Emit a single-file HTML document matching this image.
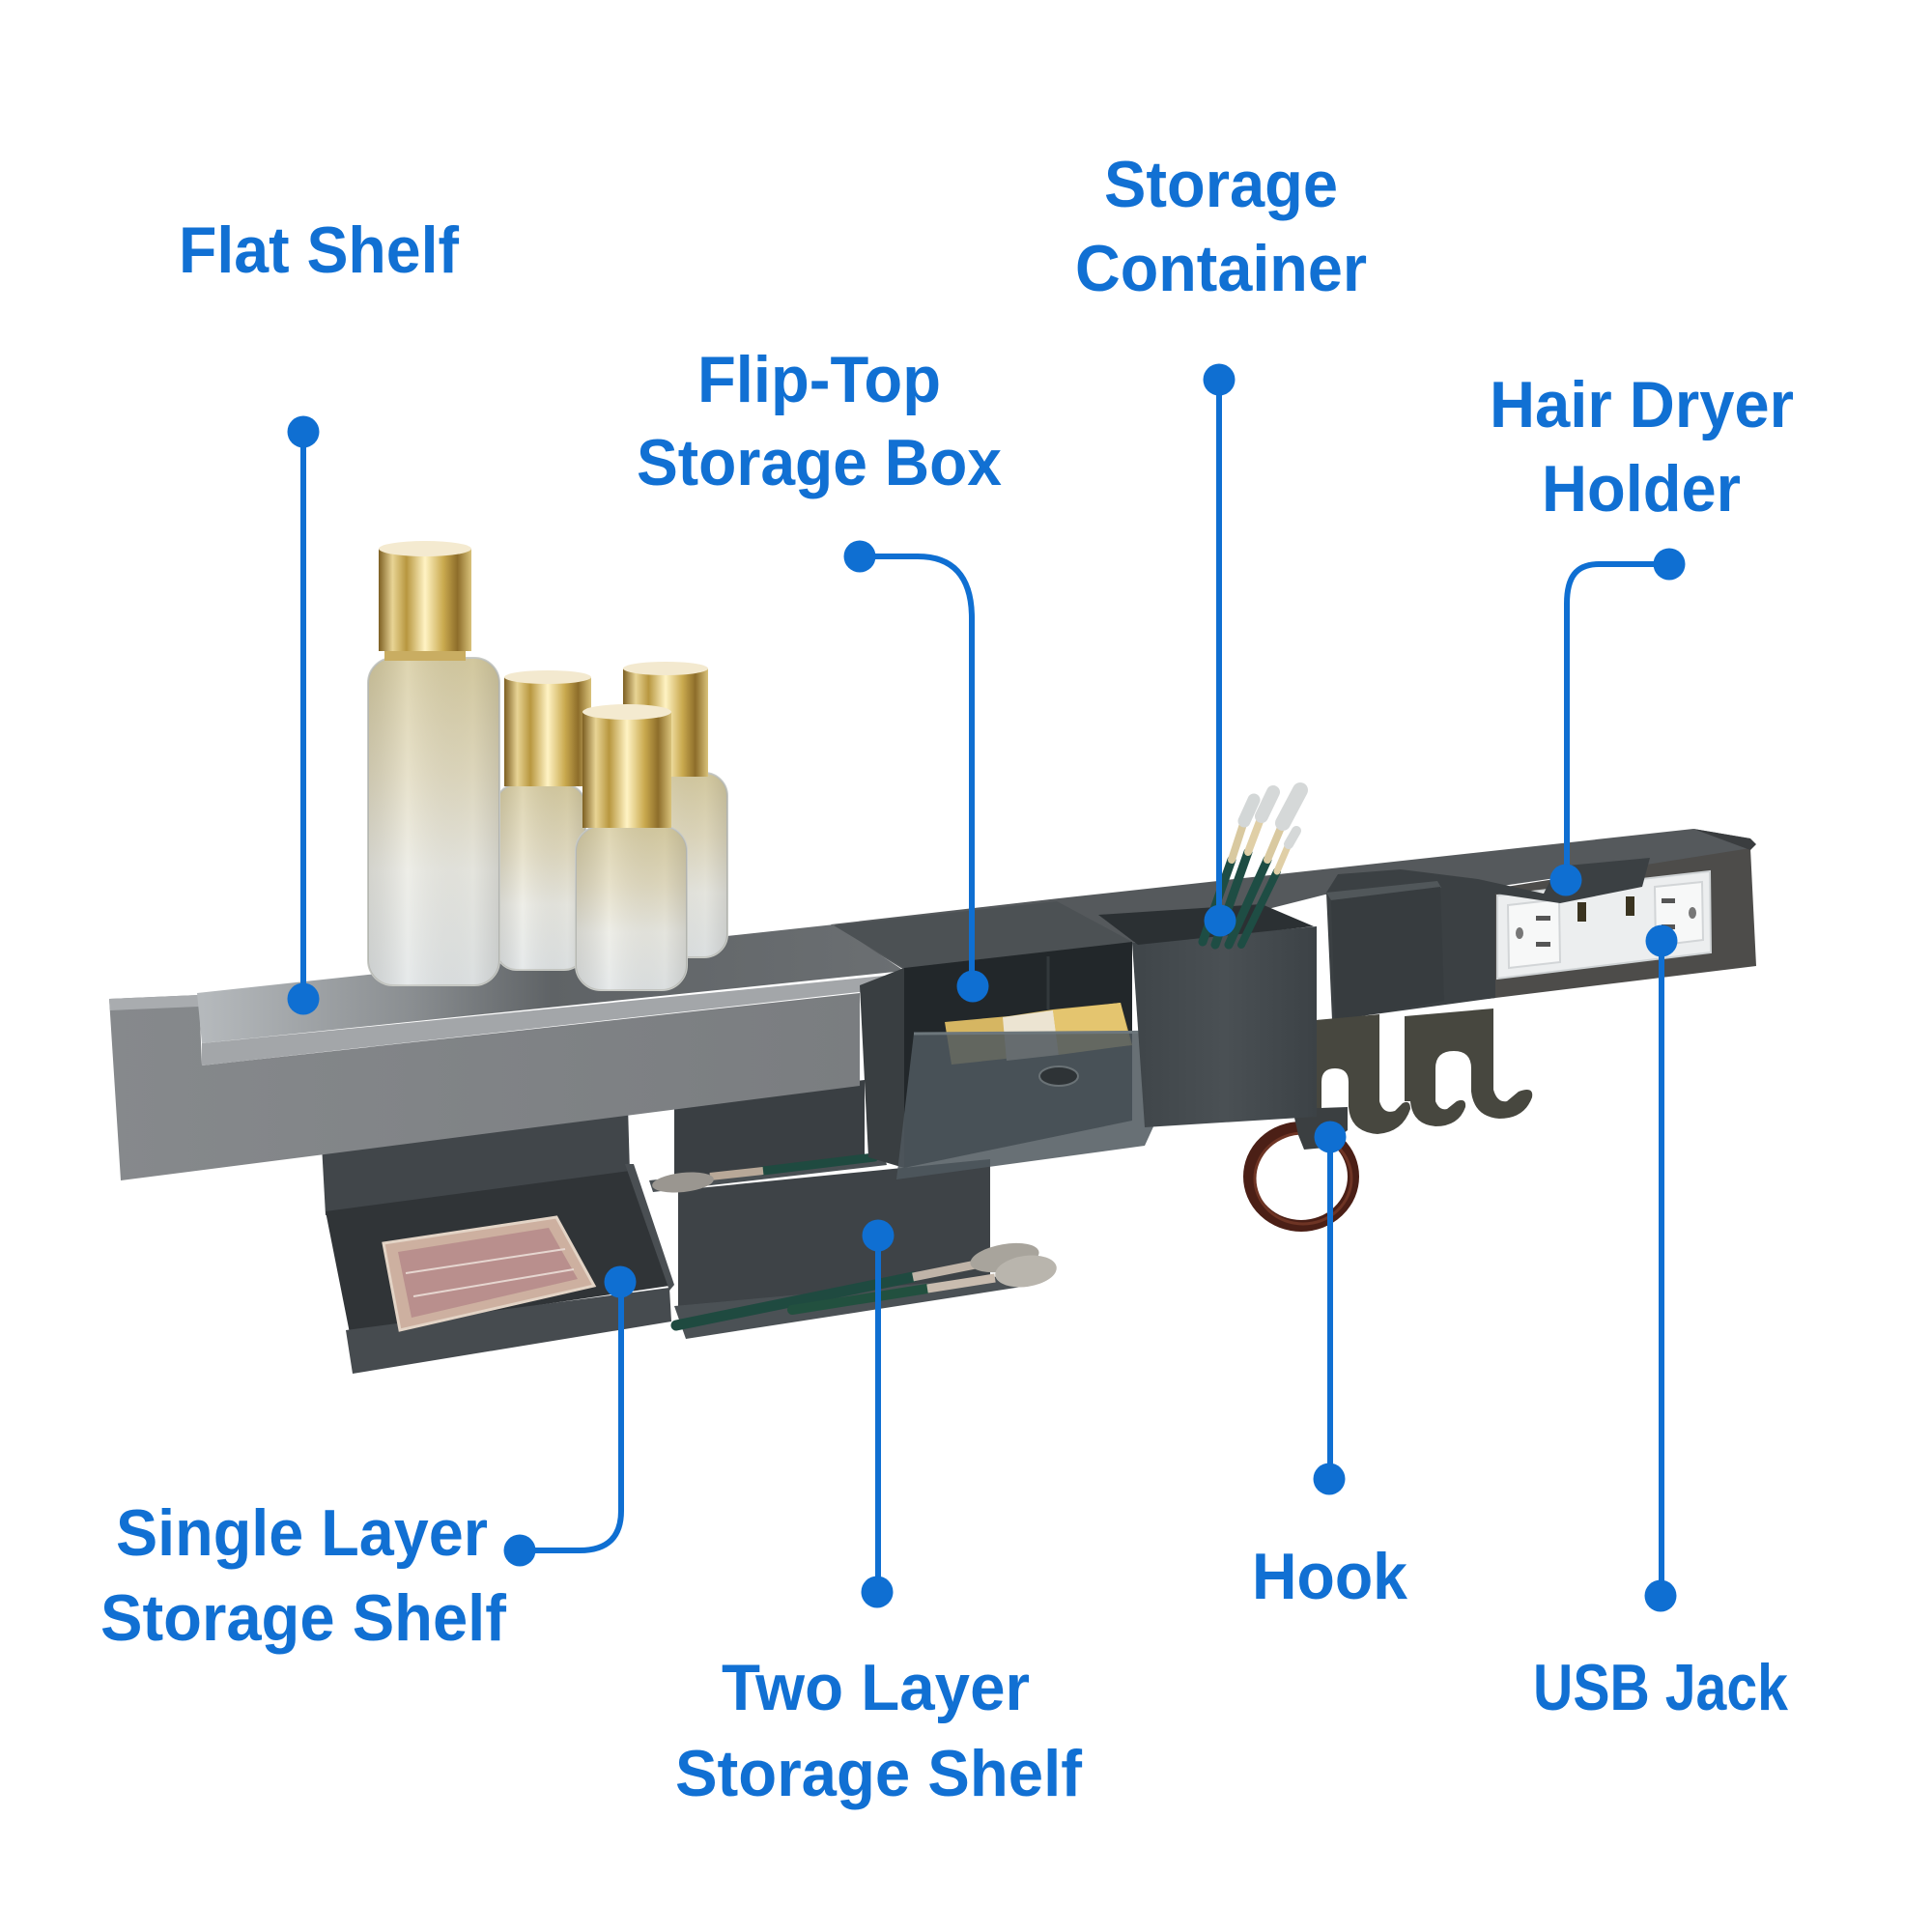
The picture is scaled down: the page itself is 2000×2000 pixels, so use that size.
<!DOCTYPE html>
<html><head><meta charset="utf-8"><style>
html,body{margin:0;padding:0;background:#fff;}
svg{display:block;}
text{font-family:"Liberation Sans",Arial,sans-serif;font-weight:bold;fill:#1170d3;}
</style></head><body>
<svg width="2000" height="2000" viewBox="0 0 2000 2000" xmlns="http://www.w3.org/2000/svg">
<defs>
<linearGradient id="shelfTop" gradientUnits="userSpaceOnUse" x1="210" y1="0" x2="930" y2="0">
<stop offset="0" stop-color="#b5b9bc"/><stop offset="0.3" stop-color="#8a8e91"/><stop offset="0.5" stop-color="#5f6366"/><stop offset="1" stop-color="#6b6f72"/></linearGradient>
<linearGradient id="front" gradientUnits="userSpaceOnUse" x1="113" y1="0" x2="890" y2="0">
<stop offset="0" stop-color="#86898c"/><stop offset="1" stop-color="#7a7d80"/></linearGradient>
<linearGradient id="body" x1="0" y1="0" x2="0" y2="1">
<stop offset="0" stop-color="#d8cda2"/><stop offset="0.35" stop-color="#e3dcc1"/><stop offset="0.65" stop-color="#ebebe4"/><stop offset="1" stop-color="#e2e6e7"/></linearGradient>
<linearGradient id="bodyH" x1="0" y1="0" x2="1" y2="0">
<stop offset="0" stop-color="#000" stop-opacity="0.10"/><stop offset="0.3" stop-color="#fff" stop-opacity="0.15"/><stop offset="0.8" stop-color="#000" stop-opacity="0.03"/><stop offset="1" stop-color="#000" stop-opacity="0.12"/></linearGradient>
<linearGradient id="cap" x1="0" y1="0" x2="1" y2="0">
<stop offset="0" stop-color="#7d5f22"/><stop offset="0.15" stop-color="#e8d495"/><stop offset="0.3" stop-color="#b8973f"/><stop offset="0.5" stop-color="#fff3c4"/><stop offset="0.7" stop-color="#c9a94e"/><stop offset="0.85" stop-color="#8d6d2a"/><stop offset="1" stop-color="#d9c27a"/></linearGradient>
<linearGradient id="cont" x1="0" y1="0" x2="1" y2="0">
<stop offset="0" stop-color="#3f4549"/><stop offset="0.5" stop-color="#4a5054"/><stop offset="1" stop-color="#3c4246"/></linearGradient>
</defs>

<!-- shelves under rail -->
<polygon points="333,1185 650,1145 652,1215 337,1258" fill="#41464a"/>
<polygon points="337,1254 652,1212 693,1331 362,1380" fill="#303437"/>
<polygon points="647,1205 656,1205 698,1330 693,1336" fill="#4a4f53"/>
<polygon points="358,1377 693,1333 695,1368 365,1422" fill="#464b4f"/>
<polygon points="397,1287 576,1260 615,1331 414,1377" fill="#cdb0a0" stroke="#e3d4c6" stroke-width="3"/>
<polygon points="412,1296 568,1271 598,1324 426,1364" fill="#b98f8d"/>
<line x1="420" y1="1318" x2="585" y2="1293" stroke="#e6d6d0" stroke-width="2"/>
<line x1="428" y1="1342" x2="594" y2="1314" stroke="#e6d6d0" stroke-width="2"/>

<!-- two layer shelf -->
<polygon points="698,1140 895,1118 895,1200 698,1222" fill="#3a3f43"/>
<polygon points="702,1232 1025,1200 1025,1323 702,1352" fill="#3e4347"/>
<polygon points="672,1222 915,1195 918,1206 676,1234" fill="#4a5054"/>
<line x1="790" y1="1212" x2="905" y2="1198" stroke="#1f4a40" stroke-width="9" stroke-linecap="round"/>
<line x1="735" y1="1218" x2="790" y2="1212" stroke="#b8a898" stroke-width="8"/>
<ellipse cx="707" cy="1224" rx="32" ry="10" fill="#9a9690" transform="rotate(-6 707 1224)"/>
<polygon points="698,1352 1071,1318 1071,1330 710,1386" fill="#4b5155"/>
<line x1="700" y1="1372" x2="945" y2="1322" stroke="#1f4a40" stroke-width="11" stroke-linecap="round"/>
<line x1="945" y1="1322" x2="1010" y2="1309" stroke="#c0b4a8" stroke-width="9"/>
<ellipse cx="1040" cy="1302" rx="36" ry="14" fill="#a8a49c" transform="rotate(-10 1040 1302)"/>
<line x1="820" y1="1356" x2="960" y2="1334" stroke="#22503f" stroke-width="10" stroke-linecap="round"/>
<line x1="960" y1="1334" x2="1030" y2="1323" stroke="#c9bcaf" stroke-width="9"/>
<ellipse cx="1062" cy="1316" rx="32" ry="16" fill="#b9b5ad" transform="rotate(-8 1062 1316)"/>

<!-- rail top surface (back) -->
<polygon points="860,957 1096,930 1753,858 1812,868 1812,880 1548,918 1372,926 1170,977 936,1004" fill="#55595c"/>
<!-- rail front face (left) -->
<polygon points="113,1034 206,1030 209,1103 890,1028 890,1124 125,1222" fill="url(#front)"/>
<polygon points="113,1034 206,1030 206,1042 114,1046" fill="#a9acaf"/>
<!-- flat shelf -->
<polygon points="204,1028 864,957 936,1005 209,1080" fill="url(#shelfTop)"/>
<polygon points="209,1080 936,1008 934,1022 209,1103" fill="#a3a6a9"/>

<!-- right rail front face -->
<polygon points="1540,921 1812,878 1818,1000 1540,1034" fill="#4d4c4a"/>
<polygon points="1753,858 1812,868 1818,874 1812,880" fill="#3a3d3f"/>
<!-- socket -->
<polygon points="1550,927 1770,902 1771,986 1550,1013" fill="#eceeef" stroke="#cfd3d5" stroke-width="2"/>
<polygon points="1561,937 1614,931 1615,996 1562,1002" fill="#f7f8f8" stroke="#d2d5d7" stroke-width="2"/>
<rect x="1590" y="948" width="15" height="5" fill="#555"/>
<rect x="1590" y="975" width="15" height="5" fill="#555"/>
<ellipse cx="1573" cy="966" rx="4" ry="6" fill="#777"/>
<polygon points="1713,918 1762,913 1763,973 1714,979" fill="#f7f8f8" stroke="#d2d5d7" stroke-width="2"/>
<rect x="1720" y="930" width="14" height="5" fill="#555"/>
<rect x="1720" y="957" width="14" height="5" fill="#555"/>
<ellipse cx="1752" cy="945" rx="4" ry="6" fill="#777"/>
<rect x="1633" y="934" width="9" height="20" fill="#3a3320"/>
<rect x="1683" y="928" width="9" height="20" fill="#3a3320"/>

<!-- hair dryer holder -->
<polygon points="1491,915 1548,918 1548,1033 1495,1036" fill="#5a5650"/>
<polygon points="1373,924 1385,905 1450,900 1530,910 1598,925 1612,897 1708,888 1700,918 1615,935 1548,925 1548,1033 1379,1056" fill="#3b4043"/>
<polygon points="1373,924 1488,912 1492,919 1378,932" fill="#51575a"/>
<polygon points="1378,932 1491,918 1495,1036 1382,1057" fill="#373c3f"/>
<!-- hooks -->
<path d="M1362,1056 L1428,1050 L1428,1140 Q1432,1154 1444,1150 L1452,1142 Q1460,1138 1460,1148 Q1452,1172 1426,1174 Q1398,1172 1396,1146 L1396,1120 Q1396,1106 1382,1106 Q1368,1106 1368,1120 L1368,1155 L1362,1155 Z" fill="#47473f"/>
<path d="M1454,1052 L1546,1044 L1546,1128 Q1550,1142 1560,1140 L1572,1130 Q1588,1124 1586,1136 Q1578,1158 1552,1158 Q1526,1156 1523,1130 L1523,1106 Q1523,1088 1505,1088 Q1486,1088 1486,1106 L1486,1140 Q1490,1150 1498,1148 L1508,1140 Q1518,1136 1517,1146 Q1510,1166 1486,1166 Q1462,1164 1460,1140 L1454,1140 Z" fill="#47473f"/>
<!-- ring hook -->
<ellipse cx="1347" cy="1218" rx="54" ry="51" fill="none" stroke="#4b1f16" stroke-width="12"/>
<ellipse cx="1349" cy="1220" rx="50" ry="47" fill="none" stroke="#6e3424" stroke-width="3"/>
<polygon points="1338,1148 1395,1146 1395,1170 1372,1188 1350,1190 1344,1175" fill="#3b3f41"/>

<!-- flip-top box -->
<polygon points="863,958 1094,933 1172,975 936,1002" fill="#4c5154"/>
<polygon points="890,1020 936,1002 936,1209 899,1198" fill="#393e41"/>
<polygon points="936,1002 1172,975 1172,1160 936,1209" fill="#22272a"/>
<line x1="1085" y1="990" x2="1085" y2="1045" stroke="#33393c" stroke-width="3"/>
<polygon points="978,1058 1044,1052 1090,1045 1160,1038 1172,1082 985,1102" fill="#d6b662"/>
<polygon points="1038,1053 1090,1046 1096,1092 1042,1098" fill="#ece4d2"/>
<polygon points="1090,1046 1160,1038 1170,1082 1096,1092" fill="#e4c56f"/>
<polygon points="946,1070 1239,1068 1185,1186 928,1221" fill="#4f595e" opacity="0.86"/>
<line x1="946" y1="1070" x2="1239" y2="1068" stroke="#6d777c" stroke-width="3"/>
<ellipse cx="1096" cy="1114" rx="20" ry="10" fill="#2e3336" stroke="#6a7276" stroke-width="2"/>

<!-- storage container -->
<polygon points="1172,976 1363,959 1363,1156 1185,1167" fill="url(#cont)"/>
<polygon points="1137,947 1306,936 1360,959 1178,978" fill="#2b3033"/>
<g stroke-linecap="round">
<line x1="1245" y1="975" x2="1275" y2="890" stroke="#1e4d44" stroke-width="9"/>
<line x1="1275" y1="890" x2="1288" y2="850" stroke="#d9c9a0" stroke-width="8"/>
<line x1="1288" y1="850" x2="1298" y2="828" stroke="#d3d7d7" stroke-width="13"/>
<line x1="1258" y1="978" x2="1292" y2="882" stroke="#1e4d44" stroke-width="9"/>
<line x1="1292" y1="882" x2="1306" y2="845" stroke="#e0cfa6" stroke-width="8"/>
<line x1="1306" y1="845" x2="1318" y2="820" stroke="#d5d8d8" stroke-width="14"/>
<line x1="1272" y1="978" x2="1312" y2="890" stroke="#1e4d44" stroke-width="9"/>
<line x1="1312" y1="890" x2="1328" y2="852" stroke="#d9c9a0" stroke-width="8"/>
<line x1="1328" y1="852" x2="1346" y2="818" stroke="#d5d8d8" stroke-width="16"/>
<line x1="1285" y1="978" x2="1322" y2="902" stroke="#1e4d44" stroke-width="8"/>
<line x1="1322" y1="902" x2="1334" y2="874" stroke="#e0cfa6" stroke-width="7"/>
<line x1="1334" y1="874" x2="1342" y2="860" stroke="#d5d8d8" stroke-width="10"/>
</g>

<!-- bottles -->
<g>
<rect x="640" y="800" width="113" height="191" rx="24" fill="url(#body)" stroke="#c9cbc6" stroke-width="2"/>
<rect x="640" y="800" width="113" height="191" rx="24" fill="url(#bodyH)"/>
<rect x="645" y="692" width="88" height="112" fill="url(#cap)"/>
<ellipse cx="689" cy="692" rx="44" ry="7" fill="#f3e9cf"/>

<rect x="513" y="812" width="93" height="192" rx="22" fill="url(#body)" stroke="#c9cbc6" stroke-width="2"/>
<rect x="513" y="812" width="93" height="192" rx="22" fill="url(#bodyH)"/>
<rect x="522" y="701" width="90" height="113" fill="url(#cap)"/>
<ellipse cx="567" cy="701" rx="45" ry="7" fill="#f3e9cf"/>

<rect x="381" y="681" width="136" height="339" rx="26" fill="url(#body)" stroke="#c9cbc6" stroke-width="2"/>
<rect x="381" y="681" width="136" height="339" rx="26" fill="url(#bodyH)"/>
<rect x="398" y="672" width="84" height="12" fill="#c9ad62"/>
<rect x="392" y="568" width="96" height="106" fill="url(#cap)"/>
<ellipse cx="440" cy="568" rx="48" ry="8" fill="#f4ead0"/>

<rect x="596" y="855" width="115" height="170" rx="26" fill="url(#body)" stroke="#c9cbc6" stroke-width="2"/>
<rect x="596" y="855" width="115" height="170" rx="26" fill="url(#bodyH)"/>
<rect x="603" y="737" width="92" height="120" fill="url(#cap)"/>
<ellipse cx="649" cy="737" rx="46" ry="8" fill="#f4ead0"/>
</g>

<!-- connectors -->
<g fill="none" stroke="#0f6fd2" stroke-width="6">
<path d="M314,447 V1034"/>
<path d="M890,576 H950 C985,576 1006,595 1006,640 V1021"/>
<path d="M1262,393 V953"/>
<path d="M1728,584 H1655 C1632,584 1622,597 1622,625 V911"/>
<path d="M1720,974 V1652"/>
<path d="M1377,1177 V1531"/>
<path d="M909,1279 V1648"/>
<path d="M538,1605 H600 C630,1605 643,1590 643,1564 V1327"/>
</g>
<g fill="#0f6fd2">
<circle cx="314" cy="447" r="16.5"/><circle cx="314" cy="1034" r="16.5"/>
<circle cx="890" cy="576" r="16.5"/><circle cx="1007" cy="1021" r="16.5"/>
<circle cx="1262" cy="393" r="16.5"/><circle cx="1263" cy="953" r="16.5"/>
<circle cx="1728" cy="584" r="16.5"/><circle cx="1621" cy="911" r="16.5"/>
<circle cx="1720" cy="974" r="16.5"/><circle cx="1719" cy="1652" r="16.5"/>
<circle cx="1377" cy="1177" r="16.5"/><circle cx="1376" cy="1531" r="16.5"/>
<circle cx="909" cy="1279" r="16.5"/><circle cx="908" cy="1648" r="16.5"/>
<circle cx="538" cy="1605" r="16.5"/><circle cx="642" cy="1327" r="16.5"/>
</g>

<!-- labels -->
<g font-size="68">
<text x="185" y="282" textLength="290" lengthAdjust="spacingAndGlyphs">Flat Shelf</text>
<text x="1143" y="214" textLength="242" lengthAdjust="spacingAndGlyphs">Storage</text>
<text x="1113" y="301" textLength="302" lengthAdjust="spacingAndGlyphs">Container</text>
<text x="722" y="416" textLength="252" lengthAdjust="spacingAndGlyphs">Flip-Top</text>
<text x="659" y="502" textLength="378" lengthAdjust="spacingAndGlyphs">Storage Box</text>
<text x="1542" y="442" textLength="315" lengthAdjust="spacingAndGlyphs">Hair Dryer</text>
<text x="1596" y="529" textLength="206" lengthAdjust="spacingAndGlyphs">Holder</text>
<text x="120" y="1610" textLength="385" lengthAdjust="spacingAndGlyphs">Single Layer</text>
<text x="104" y="1698" textLength="420" lengthAdjust="spacingAndGlyphs">Storage Shelf</text>
<text x="747" y="1770" textLength="319" lengthAdjust="spacingAndGlyphs">Two Layer</text>
<text x="699" y="1859" textLength="421" lengthAdjust="spacingAndGlyphs">Storage Shelf</text>
<text x="1296" y="1655" textLength="161" lengthAdjust="spacingAndGlyphs">Hook</text>
<text x="1587" y="1770" textLength="264" lengthAdjust="spacingAndGlyphs">USB Jack</text>
</g>
</svg>
</body></html>
